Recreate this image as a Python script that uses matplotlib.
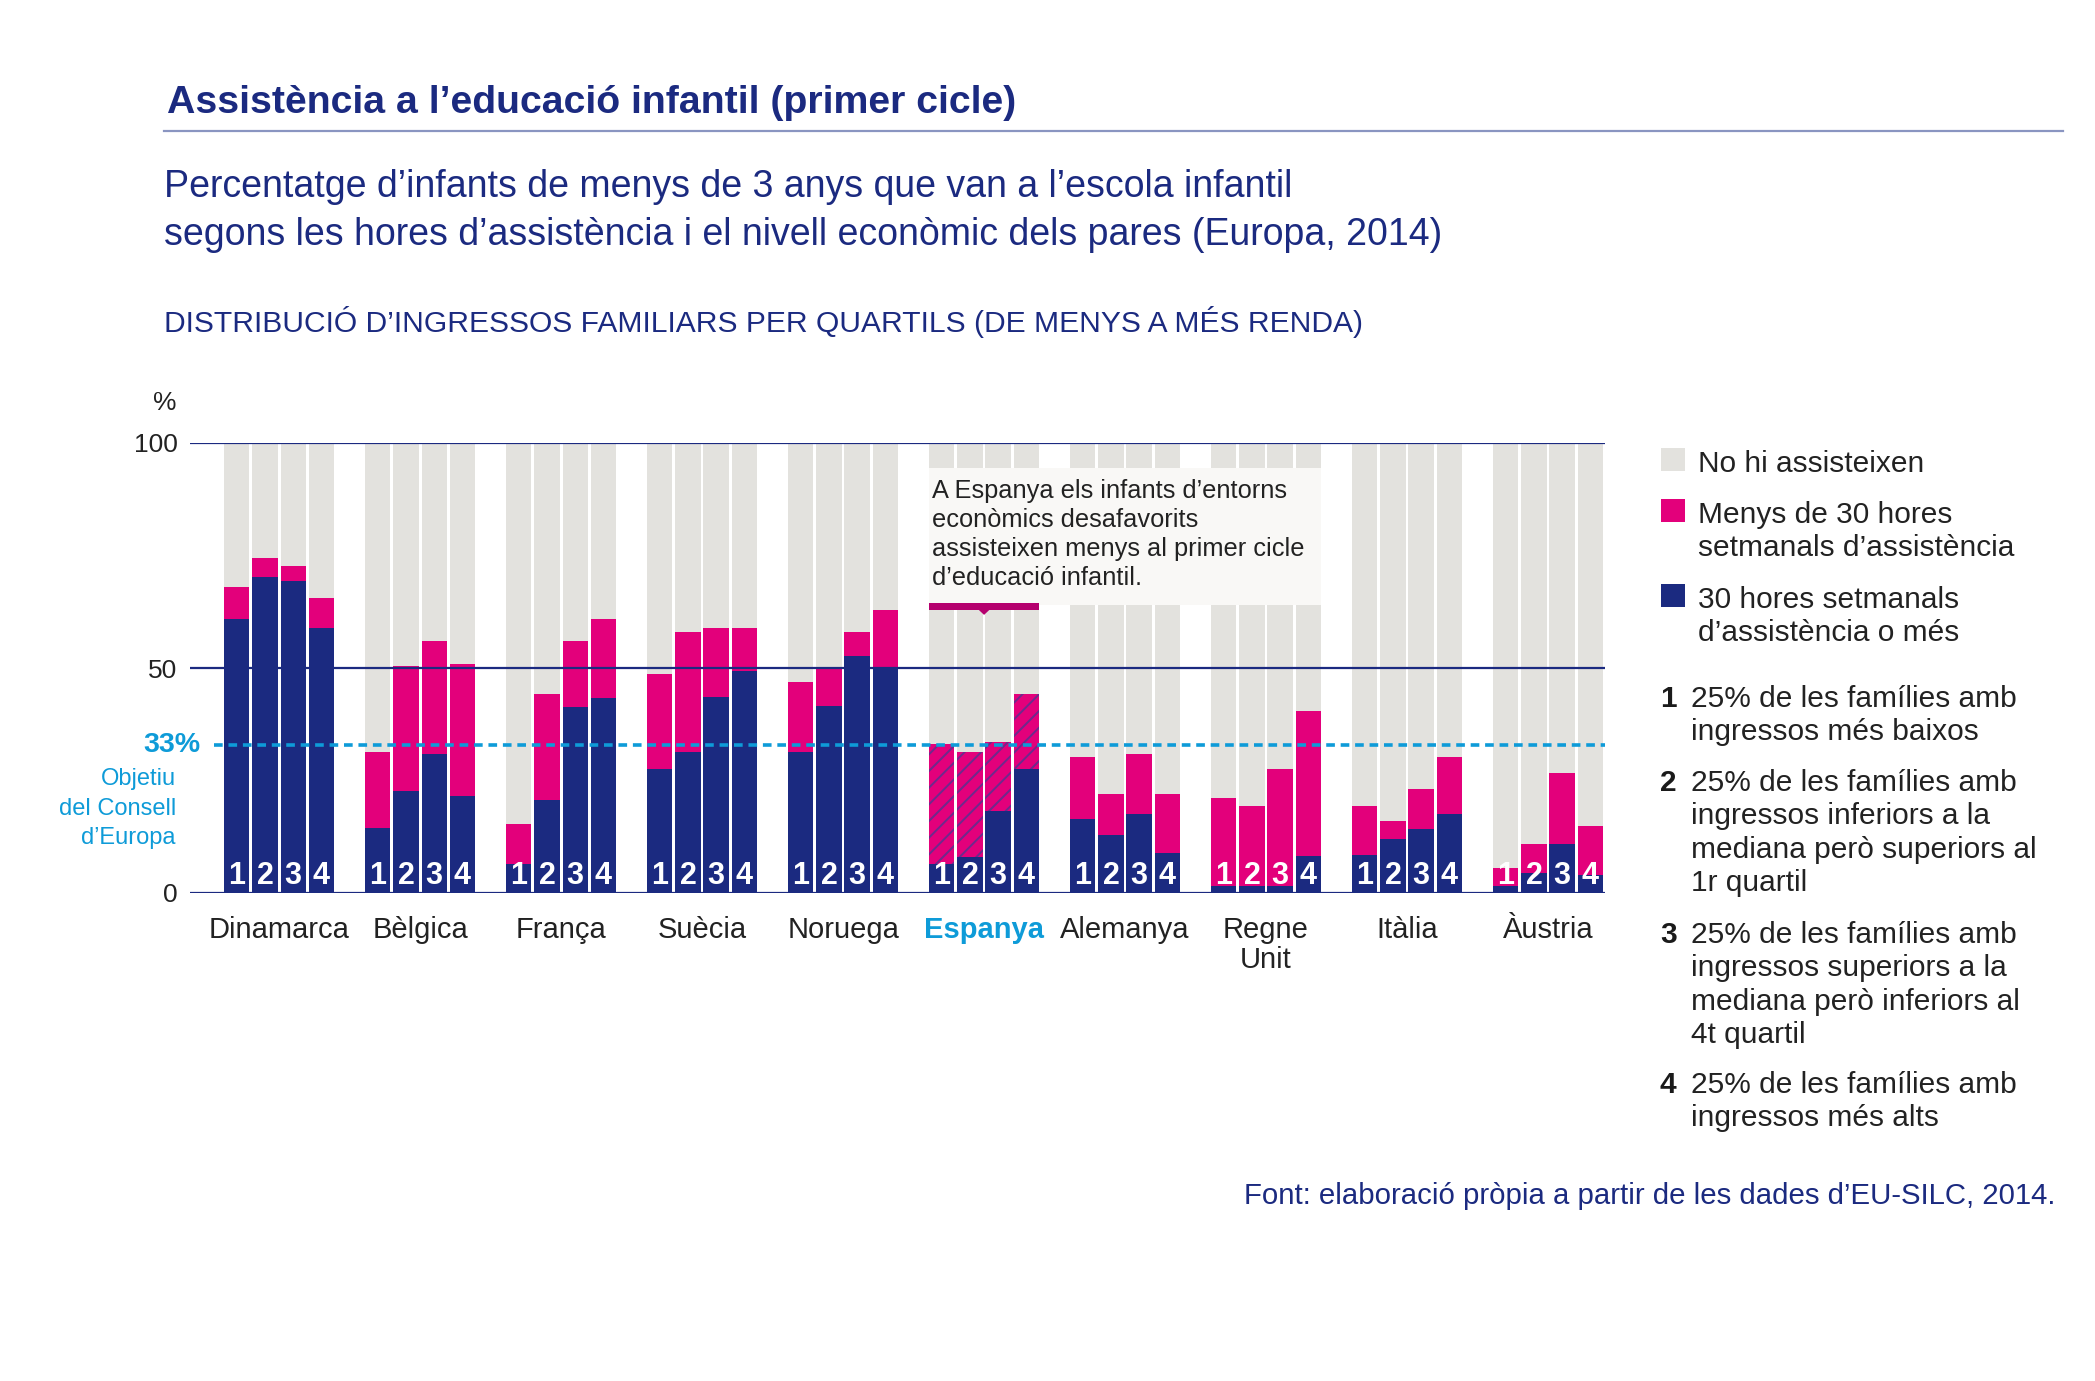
import numpy as np
import matplotlib.pyplot as plt
from matplotlib.patches import Rectangle, Polygon

plt.rcParams['font.family'] = ['Liberation Sans', 'DejaVu Sans']

# countries in chart order
countries = ["Dinamarca", "Bèlgica", "França", "Suècia", "Noruega",
             "Espanya", "Alemanya", "Regne\nUnit", "Itàlia", "Àustria"]
quartiles = ["1", "2", "3", "4"]

# % attending 30 hours a week or more, quartiles 1-4
full_time = [
    [60.9, 70.2, 69.3, 58.9],   # Dinamarca
    [14.4, 22.7, 30.9, 21.6],   # Bèlgica
    [6.4, 20.7, 41.3, 43.3],    # França
    [27.6, 31.4, 43.5, 49.3],   # Suècia
    [31.4, 41.6, 52.7, 50.2],   # Noruega
    [6.4, 8.0, 18.2, 27.6],     # Espanya
    [16.4, 13.0, 17.6, 9.0],    # Alemanya
    [1.6, 1.6, 1.6, 8.2],       # Regne Unit
    [8.4, 11.9, 14.3, 17.6],    # Itàlia
    [1.6, 4.4, 11.0, 3.9],      # Àustria
]
# % attending at all (full time + less than 30 hours)
attending = [
    [68.1, 74.4, 72.6, 65.5],
    [31.4, 50.5, 56.1, 51.0],
    [15.4, 44.3, 56.1, 60.9],
    [48.7, 58.1, 58.9, 58.9],
    [46.8, 50.3, 58.1, 62.8],
    [33.2, 31.3, 33.5, 44.3],
    [30.2, 22.1, 31.0, 22.1],
    [21.1, 19.3, 27.6, 40.5],
    [19.3, 16.1, 23.2, 30.2],
    [5.6, 11.0, 26.6, 15.0],
]
target = 33
highlight = "Espanya"

navy = "#1b2a80"
pink = "#e3007b"
grey = "#e3e2de"
cyan = "#0e9bd8"
dark = "#222222"

W, H = 2095, 1381
fig = plt.figure(figsize=(W / 100, H / 100), dpi=100)

# overlay in pixel coordinates for titles and legend
ov = fig.add_axes([0, 0, 1, 1], zorder=0)
ov.set_xlim(0, W)
ov.set_ylim(H, 0)
ov.axis("off")

ax = fig.add_axes([190 / W, (H - 893) / H, 1415 / W, 450 / H], zorder=1)
ax.patch.set_visible(False)

full = np.array(full_time)
att = np.array(attending)
part = att - full
n_groups, n_q = full.shape
x = np.array([[g * 5 + q for q in range(n_q)] for g in range(n_groups)], dtype=float)

bw = 0.9
ax.bar(x.ravel(), 100, width=bw, color=grey, linewidth=0, zorder=1)

# note box over the background bars
hi = countries.index(highlight)
box_x0 = x[hi, 0] - bw / 2
box_x1 = x[hi + 2, -1] + bw / 2
ax.add_patch(Rectangle((box_x0, 64.0), box_x1 - box_x0, 30.4,
                       facecolor="#f9f8f6", linewidth=0, zorder=1.5))

ax.bar(x.ravel(), full.ravel(), width=bw, color=navy, linewidth=0, zorder=2)
ax.bar(x.ravel(), part.ravel(), bottom=full.ravel(), width=bw, color=pink,
       linewidth=0, zorder=2)
plt.rcParams['hatch.linewidth'] = 1.4
ax.bar(x[hi], part[hi], bottom=full[hi], width=bw, facecolor="none",
       edgecolor="#6e2a8c", hatch="//", linewidth=0, zorder=2.5)

for v in [0, 50, 100]:
    ax.axhline(v, color=navy, lw=1.6, zorder=4)
ax.hlines(target, -0.8, 48.52, color=cyan, lw=2.6, linestyles=(0, (2.4, 1.6)),
          zorder=5)

# quartile numbers inside the bars
for g in range(n_groups):
    for q in range(n_q):
        ax.text(x[g, q], 2.0, quartiles[q], ha="center", va="baseline",
                color="white", fontsize=22, fontweight="bold", zorder=6)

# country labels
for g, name in enumerate(countries):
    is_hi = name == highlight
    ax.text(x[g].mean(), -5.0, name, ha="center", va="top",
            fontsize=21, color=cyan if is_hi else dark,
            fontweight="bold" if is_hi else "normal", linespacing=1.1,
            clip_on=False)

# note
ax.text(box_x0 + 0.1, 92.0,
        "A Espanya els infants d’entorns\neconòmics desafavorits\n"
        "assisteixen menys al primer cicle\nd’educació infantil.",
        ha="left", va="top", fontsize=18.3, color=dark, linespacing=1.27,
        zorder=6)
ax.add_patch(Rectangle((box_x0, 63.0), x[hi, -1] + bw / 2 - box_x0, 1.4,
                       facecolor="#b5006e", linewidth=0, zorder=6))
px = x[hi].mean()
ax.add_patch(Polygon([(px - 0.22, 63.1), (px + 0.22, 63.1), (px, 61.8)],
                     closed=True, facecolor="#b5006e", linewidth=0, zorder=6))

ax.set_xlim(-1.66, 48.52)
ax.set_ylim(0, 100)
ax.set_yticks([0, 50, 100])
ax.set_yticklabels(["0", "50", "100"], fontsize=19, color=dark)
ax.tick_params(axis="y", length=0, pad=9)
ax.set_xticks([])
for s in ax.spines.values():
    s.set_visible(False)

ax.text(-1.3, target, "33%", ha="right", va="center",
        fontsize=20.5, fontweight="bold", color=cyan, clip_on=False)
ov.text(177, 403, "%", ha="right", va="center", fontsize=19, color=dark)
for i, line in enumerate(["Objetiu", "del Consell", "d’Europa"]):
    ov.text(176, 779 + i * 29.5, line, ha="right", va="center", fontsize=17,
            color=cyan)

# titles
ov.text(167, 113, "Assistència a l’educació infantil (primer cicle)",
        ha="left", va="baseline", fontsize=28.3, fontweight="bold", color=navy)
ov.plot([164, 2063], [131, 131], color="#8a95c1", lw=1.6)
ov.text(164, 197, "Percentatge d’infants de menys de 3 anys que van a l’escola infantil",
        ha="left", va="baseline", fontsize=27.0, color=navy)
ov.text(164, 245, "segons les hores d’assistència i el nivell econòmic dels pares (Europa, 2014)",
        ha="left", va="baseline", fontsize=27.0, color=navy)
ov.text(164, 332, "DISTRIBUCIÓ D’INGRESSOS FAMILIARS PER QUARTILS (DE MENYS A MÉS RENDA)",
        ha="left", va="baseline", fontsize=21.6, color=navy)

# legend
swatches = [(grey, 448, ["No hi assisteixen"]),
            (pink, 499, ["Menys de 30 hores", "setmanals d’assistència"]),
            (navy, 584, ["30 hores setmanals", "d’assistència o més"])]
for col, top, lines in swatches:
    ov.add_patch(Rectangle((1661, top), 24, 23, facecolor=col, linewidth=0))
    for i, line in enumerate(lines):
        ov.text(1698, top + 24 + i * 33.3, line, ha="left", va="baseline",
                fontsize=21.5, color=dark)

quartile_notes = [
    (707, ["25% de les famílies amb", "ingressos més baixos"]),
    (791, ["25% de les famílies amb", "ingressos inferiors a la",
           "mediana però superiors al", "1r quartil"]),
    (943, ["25% de les famílies amb", "ingressos superiors a la",
           "mediana però inferiors al", "4t quartil"]),
    (1093, ["25% de les famílies amb", "ingressos més alts"]),
]
for q, (base, lines) in enumerate(quartile_notes):
    ov.text(1660, base, quartiles[q], ha="left", va="baseline", fontsize=21.5,
            fontweight="bold", color="#1a1a1a")
    for i, line in enumerate(lines):
        ov.text(1691, base + i * 33.3, line, ha="left", va="baseline",
                fontsize=21.5, color=dark)

ov.text(2055, 1204, "Font: elaboració pròpia a partir de les dades d’EU-SILC, 2014.",
        ha="right", va="baseline", fontsize=21.2, color=navy)

fig.savefig("out.png", dpi=100)
